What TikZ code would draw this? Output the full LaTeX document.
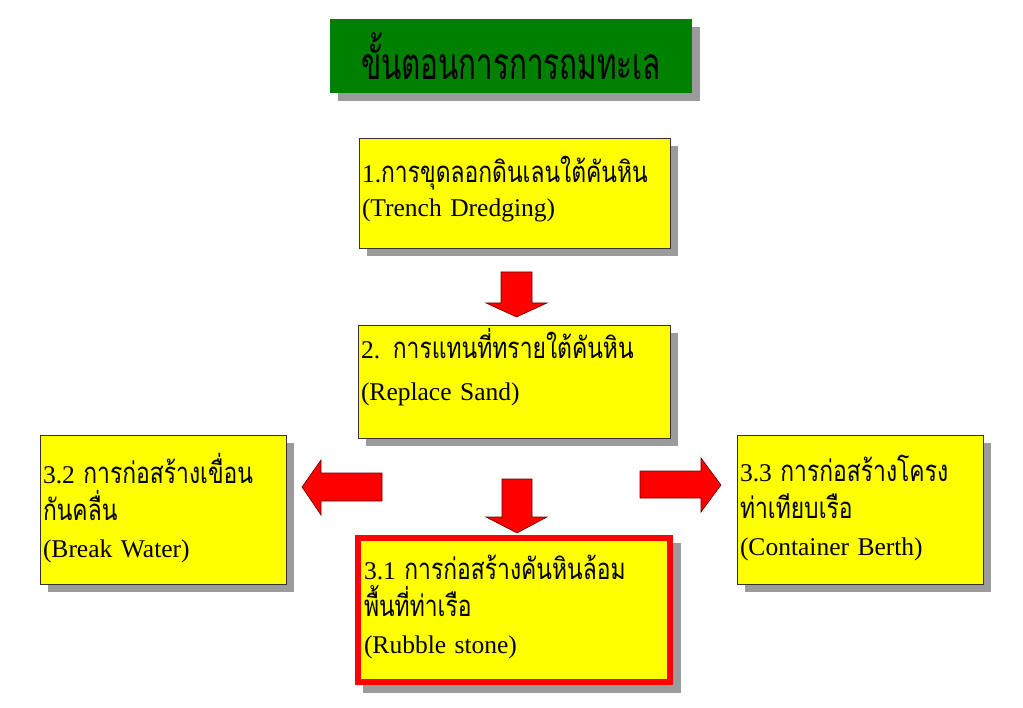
\documentclass[tikz,border=0pt]{standalone}
\usepackage{fontspec}
\setmainfont{Liberation Serif}
\newfontfamily\thaifont[Script=Thai, Scale=1.15, FakeStretch=0.78]{Loma}
\newfontfamily\thaititlefont[Script=Thai, Scale=1.3, FakeStretch=0.67]{Loma}
\newcommand\lift[1]{\rule[-#1pt]{0pt}{0pt}}
\usetikzlibrary{shadows}
\definecolor{titlegreen}{RGB}{0,128,0}
\definecolor{boxyellow}{RGB}{255,255,0}
\definecolor{shadowgray}{RGB}{155,155,155}

\begin{document}
\begin{tikzpicture}[
  x=1pt, y=-1pt,
  font=\fontsize{25.5}{37}\selectfont,
  boxshadow/.style={general shadow={fill=shadowgray, shadow xshift=8pt, shadow yshift=-8pt}},
  thickshadow/.style={general shadow={fill=shadowgray, draw=shadowgray, line width=6pt, shadow xshift=8pt, shadow yshift=-8pt}},
  titlebox/.style={boxshadow, fill=titlegreen, inner sep=0pt, font=\fontsize{34}{40}\selectfont\thaititlefont},
  stepbox/.style={fill=boxyellow, draw=black!80, line width=0.8pt, align=left, inner xsep=3pt, inner ysep=0pt},
  blockarrow/.style={fill=red, draw=black!60!red, line width=0.6pt}
]
\useasboundingbox[fill=white] (0,0) rectangle (1023,708);

% title
\node[titlebox, minimum width=362pt, minimum height=74pt] (title) at (511,56) {ขั้นตอนการการถมทะเล};

% steps
\node[stepbox, boxshadow, minimum width=311pt, minimum height=110pt, text width=305pt,
  font=\fontsize{25.5}{34}\selectfont] (trench) at (514.5,193)
  {1.{\thaifont การขุดลอกดินเลนใต้คันหิน}\\(Trench Dredging)\lift{14}};
\node[stepbox, boxshadow, minimum width=312pt, minimum height=113pt, text width=306pt,
  font=\fontsize{25.5}{42}\selectfont] (sand) at (514,381.5)
  {2. {\thaifont การแทนที่ทรายใต้คันหิน}\\(Replace Sand)\lift{34}};
\node[stepbox, boxshadow, minimum width=246pt, minimum height=149pt, text width=240pt] (breakwater) at (163,509.5)
  {3.2 {\thaifont การก่อสร้างเขื่อน}\\{\thaifont กันคลื่น}\\(Break Water)\lift{8}};
\node[stepbox, boxshadow, minimum width=246pt, minimum height=149pt, text width=240pt] (berth) at (860,509.5)
  {3.3 {\thaifont การก่อสร้างโครง}\\{\thaifont ท่าเทียบเรือ}\\(Container Berth)\lift{8}};
\node[stepbox, thickshadow, draw=red, line width=6pt, minimum width=312pt, minimum height=144pt, text width=300pt] (rubble) at (514,610)
  {3.1 {\thaifont การก่อสร้างคันหินล้อม}\\{\thaifont พื้นที่ท่าเรือ}\\(Rubble stone)\lift{12}};

% block arrows
\draw[blockarrow] (501,272) -- (532,272) -- (532,303) -- (547,303) -- (516.5,317) -- (486,303) -- (501,303) -- cycle;
\draw[blockarrow] (502,479) -- (532,479) -- (532,517) -- (547,517) -- (517,533) -- (486,517) -- (502,517) -- cycle;
\draw[blockarrow] (382,473) -- (382,501) -- (321,501) -- (321,515) -- (302,487) -- (321,460) -- (321,473) -- cycle;
\draw[blockarrow] (640,471) -- (701,471) -- (701,458) -- (721,485) -- (701,512) -- (701,498) -- (640,498) -- cycle;

\end{tikzpicture}
\end{document}
